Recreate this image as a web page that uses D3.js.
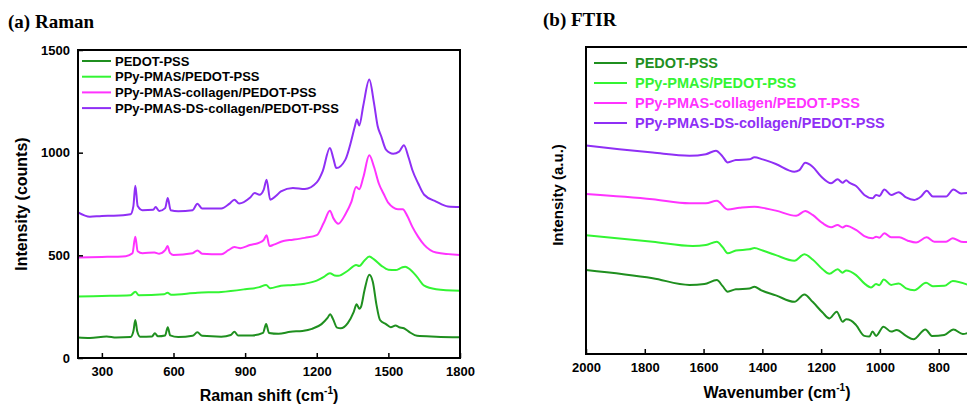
<!DOCTYPE html>
<html lang="en">
  <head>
    <meta charset="UTF-8" />
    <title>Raman and FTIR</title>
    <style>
      body { margin: 0; background: #fff; }
      text { font-family: "Liberation Sans", Arial, sans-serif; font-weight: bold; }
      .title { font-family: "Liberation Serif", "Times New Roman", serif; font-size: 19px; }
    </style>
  </head>
  <body>
    <svg id="svg" width="967" height="405"></svg>
    <script src="https://d3js.org/d3.v7.min.js"></script>
    <script>
      const seriesNames = [
        "PEDOT-PSS",
        "PPy-PMAS/PEDOT-PSS",
        "PPy-PMAS-collagen/PEDOT-PSS",
        "PPy-PMAS-DS-collagen/PEDOT-PSS",
      ];
      const colors = ["#1f8f1f", "#33f533", "#ff33ff", "#8f2ff5"];

      // Raman spectra, [shift, counts]
      const ramanPedot = [[200,100],[250,98],[320,105],[360,100],[420,102],[432,130],[440,185],[448,130],[460,104],[510,105],[522,120],[535,106],[565,110],[576,150],[586,110],[620,102],[680,108],[700,125],[720,108],[800,104],[840,112],[855,128],[870,110],[930,110],[975,122],[988,165],[1000,122],[1040,118],[1090,128],[1140,132],[1180,142],[1220,165],[1245,195],[1256,213],[1268,190],[1285,148],[1300,145],[1330,170],[1355,225],[1367,262],[1378,240],[1385,248],[1400,330],[1420,405],[1435,370],[1450,260],[1465,185],[1490,165],[1510,150],[1530,158],[1545,150],[1565,145],[1590,125],[1620,108],[1700,104],[1800,101]];
      const ramanPmas = [[200,300],[300,302],[420,305],[440,323],[455,305],[560,310],[575,318],[590,308],[700,318],[800,322],[900,335],[960,345],[988,356],[1005,340],[1050,352],[1100,356],[1150,362],[1200,377],[1230,395],[1255,413],[1275,402],[1290,400],[1330,425],[1365,453],[1378,448],[1400,475],[1420,494],[1440,480],[1470,450],[1500,430],[1530,428],[1555,440],[1570,445],[1590,432],[1620,395],[1650,352],[1700,335],[1800,327]];
      const ramanCollagen = [[200,490],[300,492],[400,496],[428,510],[440,590],[450,520],[470,510],[520,514],[540,508],[565,525],[575,545],[585,512],[600,502],[680,510],[700,524],[720,508],[800,505],[830,525],[855,540],[880,535],[920,550],[960,562],[978,575],[990,598],[1002,545],[1020,552],[1060,570],[1100,576],[1150,585],[1200,598],[1230,660],[1255,717],[1270,680],[1290,654],[1320,700],[1345,760],[1365,833],[1378,822],[1395,880],[1420,987],[1440,930],[1460,850],[1480,800],[1500,755],[1540,725],[1560,725],[1580,690],[1600,640],[1625,590],[1650,551],[1700,514],[1800,502]];
      const ramanDs = [[200,709],[250,688],[300,692],[350,693],[420,700],[432,740],[440,839],[450,740],[470,720],[515,722],[525,735],[540,716],[565,730],[576,779],[588,720],[620,715],[680,720],[700,751],[720,728],[800,728],[835,752],[855,771],[875,752],[920,780],[940,803],[960,795],[978,820],[990,868],[1005,771],[1030,790],[1050,811],[1100,828],[1150,823],[1200,855],[1225,910],[1255,1023],[1270,970],[1282,925],[1320,966],[1345,1060],[1360,1130],[1368,1161],[1378,1132],[1395,1230],[1420,1356],[1440,1240],[1455,1130],[1470,1080],[1490,1015],[1520,995],[1545,1005],[1565,1036],[1585,975],[1600,917],[1625,850],[1650,795],[1700,762],[1750,738],[1800,735]];

      // FTIR spectra, [wavenumber, a.u.]
      const ftirPedot = [[2000,2.74],[1773,2.47],[1648,2.25],[1597,2.28],[1555,2.41],[1535,2.21],[1518,2.03],[1490,2.11],[1444,2.13],[1427,2.19],[1405,2.08],[1354,1.91],[1291,1.70],[1257,1.94],[1229,1.70],[1195,1.35],[1172,1.16],[1147,1.38],[1127,1.05],[1115,1.13],[1098,1.09],[1081,0.94],[1053,0.59],[1036,0.57],[1025,0.73],[1013,0.59],[988,0.89],[962,0.73],[943,0.78],[911,0.59],[886,0.48],[845,0.80],[823,0.59],[781,0.62],[750,0.80],[718,0.65],[700,0.69]];
      const ftirPmas = [[2000,3.87],[1773,3.66],[1637,3.52],[1592,3.55],[1555,3.66],[1535,3.48],[1518,3.28],[1490,3.37],[1444,3.41],[1427,3.45],[1399,3.37],[1354,3.22],[1291,3.04],[1257,3.25],[1229,3.08],[1195,2.76],[1172,2.61],[1144,2.76],[1127,2.65],[1115,2.72],[1081,2.57],[1053,2.30],[1030,2.17],[1013,2.28],[1002,2.24],[987,2.43],[962,2.25],[936,2.30],[911,2.14],[883,2.08],[843,2.32],[820,2.21],[781,2.22],[752,2.38],[700,2.25]];
      const ftirCollagen = [[2000,5.21],[1773,5.04],[1648,4.91],[1592,4.91],[1555,4.99],[1518,4.71],[1478,4.76],[1427,4.80],[1388,4.74],[1354,4.67],[1285,4.50],[1254,4.66],[1229,4.53],[1195,4.26],[1166,4.13],[1144,4.20],[1127,4.12],[1115,4.18],[1081,4.04],[1053,3.84],[1025,3.77],[1013,3.82],[1002,3.79],[985,3.93],[962,3.80],[934,3.80],[905,3.69],[877,3.63],[841,3.80],[815,3.66],[775,3.66],[752,3.77],[724,3.66],[700,3.65]];
      const ftirDs = [[2000,6.79],[1887,6.67],[1773,6.56],[1648,6.46],[1592,6.51],[1558,6.62],[1535,6.43],[1518,6.24],[1490,6.32],[1444,6.34],[1427,6.41],[1399,6.34],[1354,6.19],[1291,5.94],[1274,5.99],[1254,6.23],[1229,6.10],[1200,5.78],[1166,5.56],[1144,5.69],[1127,5.58],[1115,5.66],[1104,5.58],[1081,5.47],[1053,5.18],[1025,5.07],[1013,5.18],[1002,5.15],[985,5.36],[962,5.18],[936,5.27],[911,5.10],[883,5.02],[860,5.13],[841,5.32],[820,5.13],[775,5.13],[750,5.36],[724,5.23],[700,5.25]];

      const ramanXTicks = [300, 600, 900, 1200, 1500, 1800];
      const ramanYTicks = [0, 500, 1000, 1500];
      const ftirXTicks = [2000, 1800, 1600, 1400, 1200, 1000, 800];

      const ramanSeries = [ramanPedot, ramanPmas, ramanCollagen, ramanDs];
      const ftirSeries = [ftirPedot, ftirPmas, ftirCollagen, ftirDs];

      const svg = d3.select("#svg");
      const fmt = d3.format("d");

      // ---------- (a) Raman ----------
      const ax = { left: 78, right: 460, top: 50, bottom: 358 };
      const xRaman = d3.scaleLinear().domain([200, 1800]).range([ax.left, ax.right]);
      const yRaman = d3.scaleLinear().domain([0, 1500]).range([ax.bottom, ax.top]);

      svg.append("text").attr("class", "title").attr("x", 8).attr("y", 28).text("(a) Raman");

      const lineRaman = d3
        .line()
        .x((d) => xRaman(d[0]))
        .y((d) => yRaman(d[1]))
        .curve(d3.curveMonotoneX);

      svg
        .append("g")
        .selectAll("path")
        .data(ramanSeries)
        .join("path")
        .attr("d", lineRaman)
        .attr("fill", "none")
        .attr("stroke", (d, i) => colors[i])
        .attr("stroke-width", 2);

      const xAxisA = svg
        .append("g")
        .attr("transform", `translate(0, ${ax.bottom})`)
        .call(d3.axisBottom(xRaman).tickValues(ramanXTicks).tickFormat(fmt).tickSizeInner(-5).tickSizeOuter(0).tickPadding(9));
      const yAxisA = svg
        .append("g")
        .attr("transform", `translate(${ax.left}, 0)`)
        .call(d3.axisLeft(yRaman).tickValues(ramanYTicks).tickFormat(fmt).tickSizeInner(-5).tickSizeOuter(0).tickPadding(8));

      [xAxisA, yAxisA].forEach((g) => {
        g.select(".domain").remove();
        g.selectAll("line").attr("stroke", "#000").attr("stroke-width", 1.5);
        g.selectAll("text").attr("font-size", 13).attr("fill", "#000");
      });

      svg
        .append("rect")
        .attr("x", ax.left)
        .attr("y", ax.top)
        .attr("width", ax.right - ax.left)
        .attr("height", ax.bottom - ax.top)
        .attr("fill", "none")
        .attr("stroke", "#000")
        .attr("stroke-width", 2);

      const labA = svg.append("text").attr("x", 269).attr("y", 401).attr("text-anchor", "middle").attr("font-size", 16);
      labA.append("tspan").text("Raman shift (cm");
      labA.append("tspan").attr("font-size", 10).attr("dy", -7).text("-1");
      labA.append("tspan").attr("dy", 7).text(")");

      svg
        .append("text")
        .attr("transform", `translate(27, 204) rotate(-90)`)
        .attr("text-anchor", "middle")
        .attr("font-size", 16)
        .text("Intensity (counts)");

      const legA = svg
        .append("g")
        .selectAll("g")
        .data(seriesNames)
        .join("g")
        .attr("transform", (d, i) => `translate(82, ${61 + i * 15.7})`);
      legA.append("line").attr("x1", 0).attr("x2", 29).attr("stroke", (d, i) => colors[i]).attr("stroke-width", 2);
      legA.append("text").attr("x", 33).attr("dy", "0.35em").attr("font-size", 13).attr("fill", "#000").text((d) => d);

      // ---------- (b) FTIR ----------
      const bx = { left: 586, top: 47, bottom: 354 };
      const xFtir = d3.scaleLinear().domain([2000, 800]).range([bx.left, 938.7]);
      const yFtir = d3.scaleLinear().domain([0, 10]).range([bx.bottom, bx.top]);

      svg.append("text").attr("class", "title").attr("x", 543).attr("y", 26).text("(b) FTIR");

      const lineFtir = d3
        .line()
        .x((d) => xFtir(d[0]))
        .y((d) => yFtir(d[1]))
        .curve(d3.curveMonotoneX);

      svg
        .append("g")
        .selectAll("path")
        .data(ftirSeries)
        .join("path")
        .attr("d", lineFtir)
        .attr("fill", "none")
        .attr("stroke", (d, i) => colors[i])
        .attr("stroke-width", 2);

      const xAxisB = svg
        .append("g")
        .attr("transform", `translate(0, ${bx.bottom})`)
        .call(d3.axisBottom(xFtir).tickValues(ftirXTicks).tickFormat(fmt).tickSizeInner(-5).tickSizeOuter(0).tickPadding(9));
      xAxisB.select(".domain").remove();
      xAxisB.selectAll("line").attr("stroke", "#000").attr("stroke-width", 1.5);
      xAxisB.selectAll("text").attr("font-size", 13).attr("fill", "#000");

      svg
        .append("path")
        .attr("d", `M980,${bx.top}H${bx.left}V${bx.bottom}H980`)
        .attr("fill", "none")
        .attr("stroke", "#000")
        .attr("stroke-width", 2);

      const labB = svg.append("text").attr("x", 777).attr("y", 398).attr("text-anchor", "middle").attr("font-size", 16);
      labB.append("tspan").text("Wavenumber (cm");
      labB.append("tspan").attr("font-size", 10).attr("dy", -7).text("-1");
      labB.append("tspan").attr("dy", 7).text(")");

      svg
        .append("text")
        .attr("transform", `translate(563, 195) rotate(-90)`)
        .attr("text-anchor", "middle")
        .attr("font-size", 15)
        .text("Intensity (a.u.)");

      const legB = svg
        .append("g")
        .selectAll("g")
        .data(seriesNames)
        .join("g")
        .attr("transform", (d, i) => `translate(594, ${63 + i * 20})`);
      legB.append("line").attr("x1", 0).attr("x2", 33).attr("stroke", (d, i) => colors[i]).attr("stroke-width", 2);
      legB.append("text").attr("x", 41).attr("dy", "0.35em").attr("font-size", 14.5).attr("fill", (d, i) => colors[i]).text((d) => d);
    </script>
  </body>
</html>
